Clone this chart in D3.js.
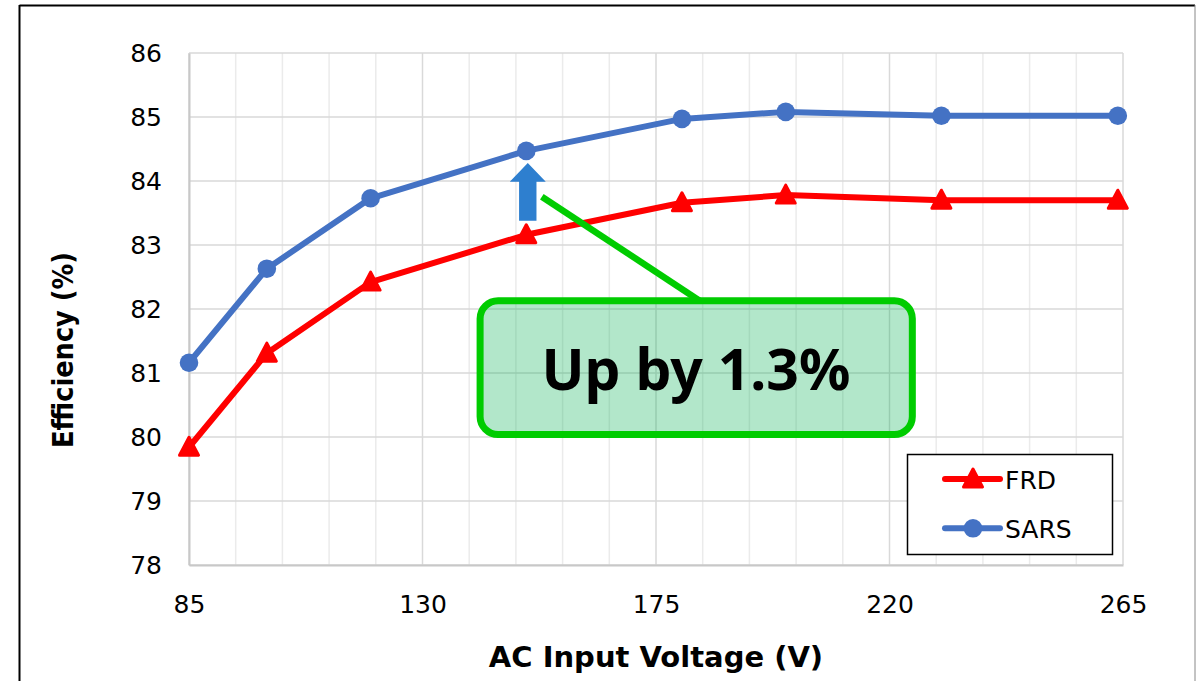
<!DOCTYPE html>
<html>
<head>
<meta charset="utf-8">
<script src="https://cdn.jsdelivr.net/npm/d3@7"></script>
<style>
  body { margin: 0; background: #fff; }
  svg { display: block; }
  text { font-family: "DejaVu Sans", Verdana, sans-serif; fill: #000; }
</style>
</head>
<body>
<svg id="chart" width="1196" height="681"></svg>
<script>
// data
const voltages = [85, 100, 120, 150, 180, 200, 230, 264];
const frdEff = [79.84, 81.31, 82.42, 83.16, 83.66, 83.78, 83.70, 83.70];
const sarsEff = [81.16, 82.63, 83.73, 84.47, 84.97, 85.08, 85.02, 85.02];
const seriesNames = ["FRD", "SARS"];
const xTicks = [85, 130, 175, 220, 265];
const yTicks = [78, 79, 80, 81, 82, 83, 84, 85, 86];
const calloutText = "Up by 1.3%";

const W = 1196, H = 681;
const margin = { left: 189, right: 73, top: 53, bottom: 116 };
const width = W - margin.left - margin.right;
const height = H - margin.top - margin.bottom;

const svg = d3.select("#chart");

// outer frame
svg.append("line").attr("x1", 19.5).attr("x2", 1195).attr("y1", 5.5).attr("y2", 5.5)
  .attr("stroke", "#000").attr("stroke-width", 2);
svg.append("line").attr("x1", 19.5).attr("x2", 19.5).attr("y1", 5).attr("y2", H)
  .attr("stroke", "#000").attr("stroke-width", 2);
svg.append("line").attr("x1", 1195).attr("x2", 1195).attr("y1", 5).attr("y2", H)
  .attr("stroke", "#888").attr("stroke-width", 1);

const g = svg.append("g").attr("transform", "translate(" + margin.left + "," + margin.top + ")");

const x = d3.scaleLinear().domain([85, 265]).range([0, width]);
const y = d3.scaleLinear().domain([78, 86]).range([height, 0]);

// minor vertical grid every 9 V
const minor = d3.range(85, 266, 9).filter(v => xTicks.indexOf(v) < 0);
g.append("g").selectAll("line").data(minor).join("line")
  .attr("x1", d => x(d)).attr("x2", d => x(d)).attr("y1", 0).attr("y2", height)
  .attr("stroke", "#ebebeb").attr("stroke-width", 1.5);

// major grid
g.append("g").selectAll("line").data(xTicks).join("line")
  .attr("x1", d => x(d)).attr("x2", d => x(d)).attr("y1", 0).attr("y2", height)
  .attr("stroke", "#d9d9d9").attr("stroke-width", 1.5);
g.append("g").selectAll("line").data(yTicks).join("line")
  .attr("x1", 0).attr("x2", width).attr("y1", d => y(d)).attr("y2", d => y(d))
  .attr("stroke", "#d9d9d9").attr("stroke-width", 1.5);

// axes
const xAxis = g.append("g").attr("transform", "translate(0," + height + ")")
  .call(d3.axisBottom(x).tickValues(xTicks).tickSize(0).tickPadding(30).tickFormat(d3.format("d")));
const yAxis = g.append("g")
  .call(d3.axisLeft(y).tickValues(yTicks).tickSize(0).tickPadding(27).tickFormat(d3.format("d")));
[xAxis, yAxis].forEach(a => {
  a.select(".domain").attr("stroke", "#c8c8c8").attr("stroke-width", 2);
  a.selectAll("text").style("font-family", "'DejaVu Sans', Verdana, sans-serif")
    .style("font-size", "25px").attr("fill", "#000");
});

// axis titles
svg.append("text")
  .attr("x", margin.left + width / 2).attr("y", 667)
  .attr("text-anchor", "middle")
  .style("font-size", "29px").style("font-weight", "bold")
  .text("AC Input Voltage (V)");
svg.append("text")
  .attr("transform", "translate(73,350) rotate(-90)")
  .attr("text-anchor", "middle")
  .attr("textLength", 196).attr("lengthAdjust", "spacingAndGlyphs")
  .style("font-size", "29px").style("font-weight", "bold")
  .text("Efficiency (%)");

// series
const frd = voltages.map((v, i) => ({ v: v, e: frdEff[i] }));
const sars = voltages.map((v, i) => ({ v: v, e: sarsEff[i] }));
const line = d3.line().x(d => x(d.v)).y(d => y(d.e));
const red = "#ff0000", blue = "#4472c4";

function triangle(cx, cy) {
  return "M" + cx + "," + (cy - 10) + "L" + (cx + 9.5) + "," + (cy + 8) + "L" + (cx - 9.5) + "," + (cy + 8) + "Z";
}

g.append("path").datum(frd).attr("d", line)
  .attr("fill", "none").attr("stroke", red).attr("stroke-width", 6).attr("stroke-linejoin", "round");
g.append("g").selectAll("path").data(frd).join("path")
  .attr("d", d => triangle(x(d.v), y(d.e)))
  .attr("fill", red).attr("stroke", red).attr("stroke-width", 3).attr("stroke-linejoin", "round");

g.append("path").datum(sars).attr("d", line)
  .attr("fill", "none").attr("stroke", blue).attr("stroke-width", 6).attr("stroke-linejoin", "round");
g.append("g").selectAll("circle").data(sars).join("circle")
  .attr("cx", d => x(d.v)).attr("cy", d => y(d.e)).attr("r", 9.3)
  .attr("fill", blue);

// blue up arrow (at 150 V)
const ax = x(150) + 1.5, aTop = y(84.28), aHead = y(83.99), aBot = y(83.38);
g.append("path")
  .attr("d", "M" + ax + "," + aTop + "L" + (ax + 18) + "," + aHead + "L" + (ax + 8.7) + "," + aHead +
    "L" + (ax + 8.7) + "," + aBot + "L" + (ax - 8.7) + "," + aBot + "L" + (ax - 8.7) + "," + aHead +
    "L" + (ax - 18) + "," + aHead + "Z")
  .attr("fill", "#2e7fcf");

// callout leader + box
const bx0 = x(141.1), bx1 = x(224.4), by0 = y(82.13), by1 = y(80.04);
g.append("line")
  .attr("x1", x(153)).attr("y1", y(83.755)).attr("x2", x(183.4)).attr("y2", by0)
  .attr("stroke", "#00cc00").attr("stroke-width", 6.5);
g.append("rect")
  .attr("x", bx0).attr("y", by0).attr("width", bx1 - bx0).attr("height", by1 - by0)
  .attr("rx", 18).attr("ry", 18)
  .attr("fill", "#00b050").attr("fill-opacity", 0.3)
  .attr("stroke", "#00cc00").attr("stroke-width", 7);
g.append("text")
  .attr("x", x(182.7)).attr("y", y(80.73))
  .attr("text-anchor", "middle")
  .style("font-family", "'Noto Sans', sans-serif")
  .style("font-size", "57px").style("font-weight", "bold")
  .text(calloutText);

// legend
const legend = svg.append("g").attr("transform", "translate(907,454)");
legend.append("rect").attr("x", 0.5).attr("y", 0.5).attr("width", 205).attr("height", 100)
  .attr("fill", "#fff").attr("stroke", "#000").attr("stroke-width", 1.5);
const items = legend.selectAll("g.item").data(seriesNames).join("g")
  .attr("class", "item")
  .attr("transform", (d, i) => "translate(0," + (25 + i * 49.3) + ")");
items.append("line").attr("x1", 38).attr("x2", 93).attr("y1", 0).attr("y2", 0)
  .attr("stroke", (d, i) => i == 0 ? red : blue).attr("stroke-width", 6).attr("stroke-linecap", "round");
items.filter((d, i) => i == 0).append("path").attr("d", triangle(66, 0))
  .attr("fill", red).attr("stroke", red).attr("stroke-width", 3).attr("stroke-linejoin", "round");
items.filter((d, i) => i == 1).append("circle").attr("cx", 66).attr("cy", 0).attr("r", 9.3)
  .attr("fill", blue);
items.append("text").attr("x", 98).attr("y", 10)
  .style("font-size", "25px").text(d => d);
</script>
</body>
</html>
